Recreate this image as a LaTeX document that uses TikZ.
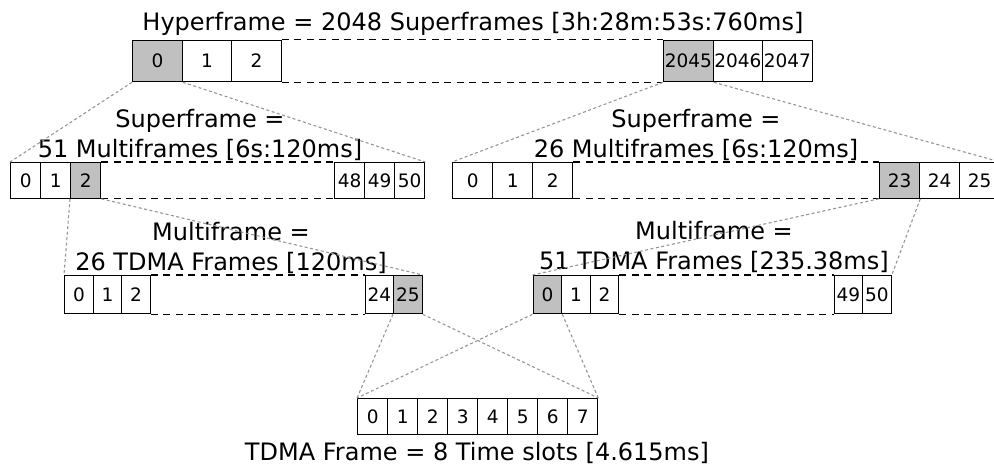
\documentclass[tikz,border=0pt]{standalone}
\usepackage{fontspec}
\setmainfont{DejaVu Sans}
\definecolor{boxgray}{RGB}{192,192,192}
\definecolor{dotgray}{RGB}{150,150,150}
\tikzset{
  cell/.style={draw, line width=1.3pt, inner sep=0pt, anchor=north west,
    font=\fontsize{18.5}{18.5}\selectfont},
  hl/.style={fill=boxgray},
  rowA/.style={cell, minimum width=49.5pt, minimum height=41.5pt},
  rowSL/.style={cell, minimum width=30pt, minimum height=35.5pt},
  rowSR/.style={cell, minimum width=40pt, minimum height=35.5pt},
  rowM/.style={cell, minimum width=28.5pt, minimum height=38pt},
  rowT/.style={cell, minimum width=30pt, minimum height=36pt},
  gapline/.style={line width=1.3pt, dash pattern=on 7pt off 5.5pt},
  dotline/.style={draw=dotgray, line width=1.1pt, dash pattern=on 3pt off 2.5pt},
  lbl/.style={font=\fontsize{24}{29.5}\selectfont, align=center, inner sep=0pt, anchor=base}
}
\begin{document}
\begin{tikzpicture}[x=1pt,y=-1pt]
\clip (0,0) rectangle (994,466);
% labels
\node[lbl] (title) at (473,30.5) {Hyperframe = 2048 Superframes [3h:28m:53s:760ms]};
\node[lbl] (supL) at (200,157) {Superframe =\\51 Multiframes [6s:120ms]};
\node[lbl] (supR) at (696,157) {Superframe =\\26 Multiframes [6s:120ms]};
\node[lbl] (mulL) at (231,270) {Multiframe =\\26 TDMA Frames [120ms]};
\node[lbl] (mulR) at (714,269) {Multiframe =\\51 TDMA Frames [235.38ms]};
\node[lbl] (tdma) at (477,460) {TDMA Frame = 8 Time slots [4.615ms]};
% hyperframe row
\node[rowA,hl] (h0) at (132,39.5) {0};
\node[rowA] (h1) at (181.5,39.5) {1};
\node[rowA] (h2) at (231,39.5) {2};
\node[rowA,hl] (h2045) at (663,39.5) {2045};
\node[rowA] (h2046) at (712.5,39.5) {2046};
\node[rowA] (h2047) at (762,39.5) {2047};
% left superframe row
\node[rowSL] (s0) at (10,162) {0};
\node[rowSL] (s1) at (40,162) {1};
\node[rowSL,hl] (s2) at (70,162) {2};
\node[rowSL] (s48) at (334,162) {48};
\node[rowSL] (s49) at (364,162) {49};
\node[rowSL] (s50) at (394,162) {50};
% right superframe row
\node[rowSR] (r0) at (452,162) {0};
\node[rowSR] (r1) at (492,162) {1};
\node[rowSR] (r2) at (532,162) {2};
\node[rowSR,hl] (r23) at (879,162) {23};
\node[rowSR] (r24) at (919,162) {24};
\node[rowSR] (r25) at (959,162) {25};
% left multiframe row
\node[rowM] (m0) at (64,275) {0};
\node[rowM] (m1) at (92.5,275) {1};
\node[rowM] (m2) at (121,275) {2};
\node[rowM] (m24) at (364.5,275) {24};
\node[rowM,hl] (m25) at (393,275) {25};
% right multiframe row
\node[rowM,hl] (n0) at (532.5,275) {0};
\node[rowM] (n1) at (561,275) {1};
\node[rowM] (n2) at (589.5,275) {2};
\node[rowM] (n49) at (833.5,275) {49};
\node[rowM] (n50) at (862,275) {50};
% TDMA frame row
\foreach \i in {0,...,7}{
  \node[rowT] (t\i) at (357+30*\i,398) {\i};
}
% dashed gaps
\foreach \a/\b in {h2/h2045, s2/s48, r2/r23, m2/m24, n2/n49}{
  \draw[gapline] (\a.north east) -- (\b.north west);
  \draw[gapline] (\a.south east) -- (\b.south west);
}
% dotted zoom lines
\draw[dotline] (h0.south west) -- (s0.north west);
\draw[dotline] (h0.south east) -- (s50.north east);
\draw[dotline] (h2045.south west) -- (r0.north west);
\draw[dotline] (h2045.south east) -- (r25.north east);
\draw[dotline] (s2.south west) -- (m0.north west);
\draw[dotline] (s2.south east) -- (m25.north east);
\draw[dotline] (r23.south west) -- (n0.north west);
\draw[dotline] (r23.south east) -- (n50.north east);
\draw[dotline] (m25.south west) -- (t0.north west);
\draw[dotline] (m25.south east) -- (t7.north east);
\draw[dotline] (n0.south west) -- (t0.north west);
\draw[dotline] (n0.south east) -- (t7.north east);
\end{tikzpicture}
\end{document}
